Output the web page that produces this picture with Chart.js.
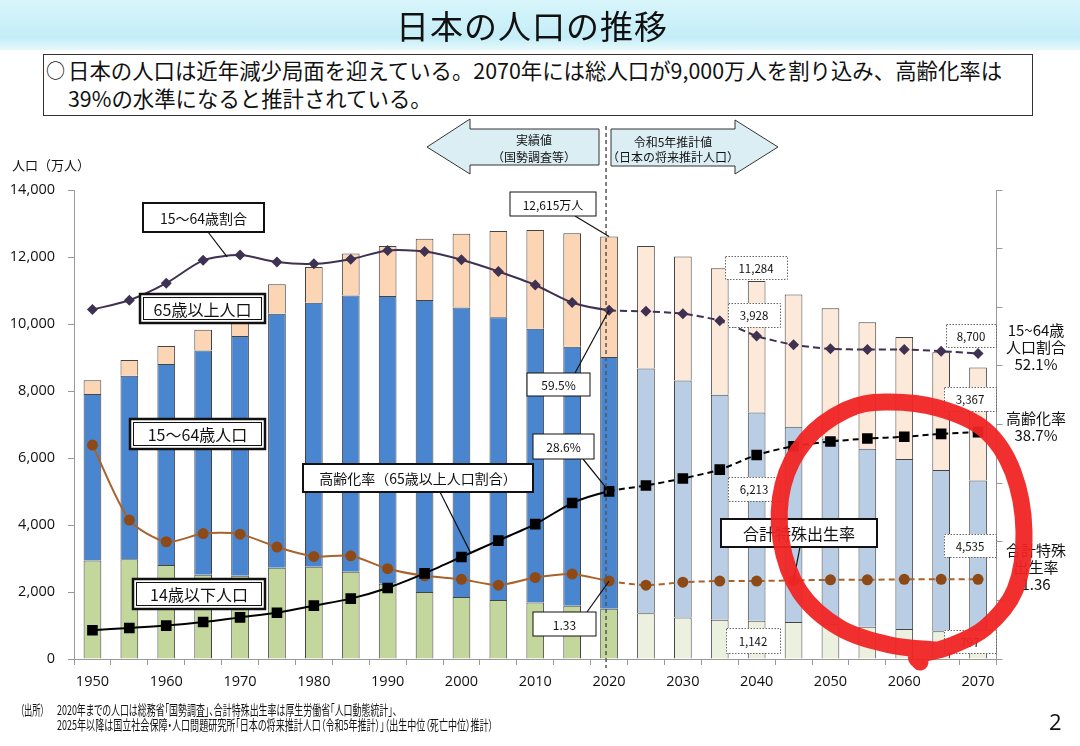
<!DOCTYPE html>
<html lang="ja">
<head>
<meta charset="utf-8">
<script src="https://cdn.jsdelivr.net/npm/chart.js@4.4.1/dist/chart.umd.min.js"></script>
<style>
  html, body { margin: 0; padding: 0; background: #fff; }
  body { width: 1080px; height: 746px; position: relative; overflow: hidden; font-family: "Noto Sans CJK JP", sans-serif; color: #111; }
  #banner { position: absolute; left: 0; top: 0; width: 1080px; height: 50px; background: linear-gradient(to bottom, #d8f5fb, #c4edf7 75%, #e6f8fc); }
  #title { position: absolute; left: 0; top: 1px; width: 1064px; text-align: center; font-size: 33px; letter-spacing: 1px; z-index: 2; }
  #lead { position: absolute; left: 43px; top: 54px; width: 990px; height: 62px; box-sizing: border-box; border: 1.5px solid #333; background: #fff; font-size: 21.4px; line-height: 28px; padding: 1px 0 0 24px; z-index: 2; white-space: nowrap; }
  #lead .mark { position: absolute; left: 2px; top: 1px; font-size: 19px; }
  #wrap { position: absolute; left: 0; top: 0; width: 1080px; height: 746px; z-index: 1; }
  #yTitle { position: absolute; left: 12px; top: 155px; font-size: 13px; z-index: 2; }
  .src { position: absolute; font-size: 13.5px; line-height: 16px; font-feature-settings: "palt"; transform-origin: left center; white-space: nowrap; z-index: 2; display: inline-block; }
  #page { position: absolute; left: 1049px; top: 706px; font-size: 22px; z-index: 2; font-family: "Open Sans", sans-serif; }
</style>
</head>
<body>
<div id="banner"></div>
<div id="title">日本の人口の推移</div>
<div id="lead"><span class="mark">○</span>日本の人口は近年減少局面を迎えている。2070年には総人口が9,000万人を割り込み、高齢化率は<br>39%の水準になると推計されている。</div>
<div id="yTitle">人口（万人）</div>
<div id="wrap"><canvas id="chart"></canvas></div>
<div class="src" data-w="25" style="left:20px; top:701px;">（出所）</div>
<div class="src" data-w="340" style="left:57px; top:701px;">2020年までの人口は総務省「国勢調査」、合計特殊出生率は厚生労働省「人口動態統計」、</div>
<div class="src" data-w="436" style="left:57px; top:716px;">2025年以降は国立社会保障・人口問題研究所「日本の将来推計人口（令和5年推計）」（出生中位（死亡中位）推計）</div>
<div id="page">2</div>

<script>
// 年次（5年ごと）
const years = ["1950", "1955", "1960", "1965", "1970", "1975", "1980", "1985", "1990", "1995", "2000", "2005", "2010",
  "2015", "2020", "2025", "2030", "2035", "2040", "2045", "2050", "2055", "2060", "2065", "2070"];

// 人口（万人）
const pop0to14 = [2943, 2980, 2807, 2517, 2482, 2722, 2751, 2603, 2249, 2001, 1851, 1759, 1684, 1589, 1503,
  1363, 1240, 1169, 1142, 1103, 1041, 966, 893, 831, 797];
const pop15to64 = [4966, 5473, 6000, 6693, 7157, 7581, 7883, 8251, 8590, 8716, 8638, 8442, 8174, 7735, 7509,
  7310, 7076, 6722, 6213, 5832, 5540, 5307, 5078, 4809, 4535];
const pop65plus = [411, 475, 535, 618, 733, 887, 1065, 1247, 1489, 1826, 2204, 2576, 2948, 3387, 3603,
  3653, 3696, 3773, 3928, 3945, 3888, 3778, 3644, 3519, 3367];

// 割合（%）と合計特殊出生率
const ratio15to64 = [59.6, 61.2, 64.1, 68.0, 68.9, 67.7, 67.4, 68.2, 69.7, 69.5, 68.1, 66.1, 63.8, 60.8, 59.5,
  59.3, 58.9, 57.7, 55.1, 53.6, 52.9, 52.8, 52.8, 52.5, 52.1];
const agingRate = [4.9, 5.3, 5.7, 6.3, 7.1, 7.9, 9.1, 10.3, 12.1, 14.6, 17.4, 20.2, 23.0, 26.6, 28.6,
  29.6, 30.8, 32.3, 34.8, 36.3, 37.1, 37.6, 37.9, 38.4, 38.7];
const fertility = [3.65, 2.37, 2.00, 2.14, 2.13, 1.91, 1.75, 1.76, 1.54, 1.42, 1.36, 1.26, 1.39, 1.45, 1.33,
  1.26, 1.31, 1.33, 1.33, 1.34, 1.35, 1.35, 1.36, 1.36, 1.36];

const popTicks = [0, 2000, 4000, 6000, 8000, 10000, 12000, 14000];
const lastActual = years.indexOf("2020");

const pastOrFuture = (past, future) => (ctx) => (ctx.dataIndex <= lastActual ? past : future);
const futureDash = (dash) => ({ borderDash: (ctx) => (ctx.p0DataIndex >= lastActual ? dash : undefined) });
const fmt = (v) => v.toLocaleString("en-US");

// 出所の行幅を元の図に合わせる
document.querySelectorAll(".src").forEach((el) => {
  el.style.transform = `scaleX(${Number(el.dataset.w) / el.offsetWidth})`;
});

// 吹き出し・ラベル
const callouts = [
  { text: ["15～64歳割合"], x: 143, y: 203, w: 121, h: 29, size: 14, kind: "single", lw: 2, from: [208, 232], to: { ds: 3, i: 3, t: 0.65 } },
  { text: ["65歳以上人口"], x: 140, y: 294, w: 125, h: 29, size: 16, kind: "double" },
  { text: ["15～64歳人口"], x: 130, y: 419, w: 135, h: 30, size: 16, kind: "double" },
  { text: ["14歳以下人口"], x: 133, y: 579, w: 132, h: 30, size: 16, kind: "double" },
  { text: ["高齢化率（65歳以上人口割合）"], x: 303, y: 464, w: 230, h: 28, size: 14, kind: "single", lw: 2, from: [440, 492], to: { ds: 4, i: 10, t: 0.25 } },
  { text: ["12,615万人"], x: 510, y: 192, w: 86, h: 24, size: 12, kind: "single", lw: 1, from: [575, 216], to: { ds: 2, i: 14 } },
  { text: ["59.5%"], x: 527, y: 373, w: 63, h: 23, size: 12, kind: "single", lw: 1, from: [575, 373], to: { ds: 3, i: 14 } },
  { text: ["28.6%"], x: 533, y: 434, w: 61, h: 25, size: 12, kind: "single", lw: 1, from: [583, 459], to: { ds: 4, i: 14 } },
  { text: ["1.33"], x: 533, y: 612, w: 63, h: 24, size: 12, kind: "single", lw: 1, from: [587, 612], to: { ds: 5, i: 14 } },
  { text: ["合計特殊出生率"], x: 721, y: 519, w: 156, h: 28, size: 16, kind: "single", lw: 2, from: [800, 547], to: { ds: 5, i: 19 } },
  { text: ["11,284"], x: 725, y: 256, w: 62, h: 23, size: 11.5, kind: "dotted" },
  { text: ["3,928"], x: 728, y: 303, w: 52, h: 24, size: 11.5, kind: "dotted" },
  { text: ["6,213"], x: 728, y: 477, w: 52, h: 24, size: 11.5, kind: "dotted" },
  { text: ["1,142"], x: 726, y: 628, w: 54, h: 25, size: 11.5, kind: "dotted" },
  { text: ["8,700"], x: 946, y: 324, w: 50, h: 23, size: 11.5, kind: "dotted" },
  { text: ["3,367"], x: 944, y: 387, w: 52, h: 24, size: 11.5, kind: "dotted" },
  { text: ["4,535"], x: 944, y: 534, w: 52, h: 23, size: 11.5, kind: "dotted" },
  { text: ["797"], x: 944, y: 630, w: 52, h: 23, size: 11.5, kind: "dotted" }
];

const sideNotes = [
  { lines: ["15~64歳", "人口割合", "52.1%"], x: 1036, y: 330 },
  { lines: ["高齢化率", "38.7%"], x: 1036, y: 418 },
  { lines: ["合計特殊", "出生率", "1.36"], x: 1036, y: 550 }
];

// 手書きの赤い丸
const redLoop = [[935, 650], [890, 645], [840, 628], [800, 592], [781, 540], [783, 485], [806, 440], [846, 410],
  [885, 402], [938, 408], [985, 430], [1013, 472], [1024, 532], [1015, 590], [985, 628], [948, 647], [918, 655], [920, 662]];

function pointAt(chart, ds, i, t) {
  const els = chart.getDatasetMeta(ds).data;
  const a = els[i], b = els[i + 1] || a;
  t = t || 0;
  return [a.x + (b.x - a.x) * t, a.y + (b.y - a.y) * t];
}

function arrowShape(ctx, pts, lines, cx, ys) {
  ctx.beginPath();
  pts.forEach((p, k) => (k ? ctx.lineTo(p[0], p[1]) : ctx.moveTo(p[0], p[1])));
  ctx.closePath();
  ctx.fillStyle = "#dbeef4";
  ctx.fill();
  ctx.strokeStyle = "#333";
  ctx.lineWidth = 1;
  ctx.stroke();
  ctx.fillStyle = "#111";
  ctx.font = '12px "Noto Sans CJK JP"';
  ctx.textAlign = "center";
  ctx.textBaseline = "middle";
  lines.forEach((s, k) => ctx.fillText(s, cx, ys[k]));
}

const decorations = {
  id: "decorations",
  afterDatasetsDraw(chart) {
    const ctx = chart.ctx;
    ctx.save();

    // 実績値／推計値の境界
    const x2020 = chart.scales.x.getPixelForValue(lastActual) - 3;
    ctx.strokeStyle = "#555";
    ctx.lineWidth = 1.5;
    ctx.setLineDash([4, 3]);
    ctx.beginPath();
    ctx.moveTo(x2020, 126);
    ctx.lineTo(x2020, 668);
    ctx.stroke();
    ctx.setLineDash([]);

    arrowShape(ctx, [[427, 147], [470, 119], [470, 129], [599, 129], [599, 165], [470, 165], [470, 174]],
      ["実績値", "（国勢調査等）"], 534, [140, 157]);
    arrowShape(ctx, [[611, 129], [735, 129], [735, 120], [778, 147], [735, 174], [735, 166], [611, 166]],
      ["令和5年推計値", "（日本の将来推計人口）"], 673, [142, 157]);

    callouts.forEach((c) => {
      if (c.to) {
        const p = pointAt(chart, c.to.ds, c.to.i, c.to.t);
        ctx.strokeStyle = "#111";
        ctx.lineWidth = 1.2;
        ctx.beginPath();
        ctx.moveTo(c.from[0], c.from[1]);
        ctx.lineTo(p[0], p[1]);
        ctx.stroke();
      }
      ctx.fillStyle = "#fff";
      ctx.fillRect(c.x, c.y, c.w, c.h);
      if (c.kind === "double") {
        ctx.strokeStyle = "#111";
        ctx.lineWidth = 2.5;
        ctx.strokeRect(c.x, c.y, c.w, c.h);
        ctx.lineWidth = 1;
        ctx.strokeRect(c.x + 3.5, c.y + 3.5, c.w - 7, c.h - 7);
      } else if (c.kind === "dotted") {
        ctx.strokeStyle = "#666";
        ctx.lineWidth = 1;
        ctx.setLineDash([1.5, 1.5]);
        ctx.strokeRect(c.x + 0.5, c.y + 0.5, c.w, c.h);
        ctx.setLineDash([]);
      } else {
        ctx.strokeStyle = "#111";
        ctx.lineWidth = c.lw;
        ctx.strokeRect(c.x, c.y, c.w, c.h);
      }
      ctx.fillStyle = "#111";
      ctx.font = c.size + 'px "Noto Sans CJK JP"';
      ctx.textAlign = "center";
      ctx.textBaseline = "middle";
      ctx.fillText(c.text[0], c.x + c.w / 2, c.y + c.h / 2 + 1);
    });

    ctx.font = '15px "Noto Sans CJK JP"';
    ctx.fillStyle = "#111";
    sideNotes.forEach((n) => n.lines.forEach((s, k) => ctx.fillText(s, n.x, n.y + k * 17)));
  },
  afterDraw(chart) {
    const ctx = chart.ctx;
    ctx.save();
    ctx.strokeStyle = "rgba(240, 36, 36, 0.95)";
    ctx.lineWidth = 17;
    ctx.lineCap = "round";
    ctx.lineJoin = "round";
    ctx.beginPath();
    ctx.moveTo(redLoop[0][0], redLoop[0][1]);
    for (let k = 0; k < redLoop.length - 1; k++) {
      const p0 = redLoop[k - 1] || redLoop[k];
      const p1 = redLoop[k], p2 = redLoop[k + 1];
      const p3 = redLoop[k + 2] || p2;
      ctx.bezierCurveTo(p1[0] + (p2[0] - p0[0]) / 6, p1[1] + (p2[1] - p0[1]) / 6,
        p2[0] - (p3[0] - p1[0]) / 6, p2[1] - (p3[1] - p1[1]) / 6, p2[0], p2[1]);
    }
    ctx.stroke();
    ctx.restore();
  }
};

const barCommon = { type: "bar", stack: "pop", yAxisID: "y", borderColor: "#444", borderWidth: 1, barPercentage: 0.48, categoryPercentage: 1, order: 3 };
const lineCommon = { type: "line", borderWidth: 2, tension: 0.25, order: 1, pointBorderWidth: 0 };

const chart = new Chart(document.getElementById("chart"), {
  data: {
    labels: years,
    datasets: [
      { ...barCommon, label: "14歳以下人口", data: pop0to14, backgroundColor: pastOrFuture("#c3d69b", "#ebf1de") },
      { ...barCommon, label: "15～64歳人口", data: pop15to64, backgroundColor: pastOrFuture("#4a86cf", "#b9cde5") },
      { ...barCommon, label: "65歳以上人口", data: pop65plus, backgroundColor: pastOrFuture("#fcd5b5", "#fde9d9") },
      { ...lineCommon, label: "15～64歳割合", data: ratio15to64, yAxisID: "y2", borderColor: "#3f3151", pointBackgroundColor: "#3f3151",
        pointStyle: "rectRot", pointRadius: 5.5, segment: futureDash([7, 4]) },
      { ...lineCommon, label: "高齢化率", data: agingRate, yAxisID: "y2", borderColor: "#000", pointBackgroundColor: "#000",
        pointStyle: "rect", pointRadius: 7.5, segment: futureDash([6, 4]) },
      { ...lineCommon, label: "合計特殊出生率", data: fertility, yAxisID: "y3", borderColor: "#a8632c", pointBackgroundColor: "#8d4a16",
        pointStyle: "circle", pointRadius: 5.5, segment: futureDash([6, 4]) }
    ]
  },
  options: {
    responsive: true,
    maintainAspectRatio: false,
    animation: false,
    layout: { padding: { left: 0, right: 0, top: 190, bottom: 47 } },
    plugins: { legend: { display: false }, tooltip: { enabled: false } },
    scales: {
      x: {
        stacked: true,
        offset: true,
        grid: { offset: true, drawOnChartArea: false, tickLength: 6, color: "#999" },
        border: { color: "#999" },
        ticks: {
          autoSkip: false, maxRotation: 0, padding: 8, color: "#111",
          font: { family: "Open Sans", size: 14.5 },
          callback: (v, i) => (Number(years[i]) % 10 === 0 ? years[i] : "")
        },
        afterFit: (s) => { s.height = 40; }
      },
      y: {
        stacked: true,
        position: "left",
        min: 0, max: 14000,
        afterBuildTicks: (s) => { s.ticks = popTicks.map((v) => ({ value: v })); },
        grid: { drawOnChartArea: false, tickLength: 6, color: "#999" },
        border: { color: "#999" },
        ticks: { padding: 13, color: "#111", font: { family: "Open Sans", size: 14.5 }, callback: (v) => fmt(v) },
        afterFit: (s) => { s.width = 74; }
      },
      y2: {
        position: "right",
        min: 0, max: 80,
        grid: { drawOnChartArea: false, tickLength: 6, color: "#999" },
        border: { color: "#999" },
        ticks: { stepSize: 10, callback: () => "" },
        afterFit: (s) => { s.width = 83.5; }
      },
      y3: { display: false, min: 0, max: 8 }
    }
  },
  plugins: [decorations]
});
</script>
</body>
</html>
